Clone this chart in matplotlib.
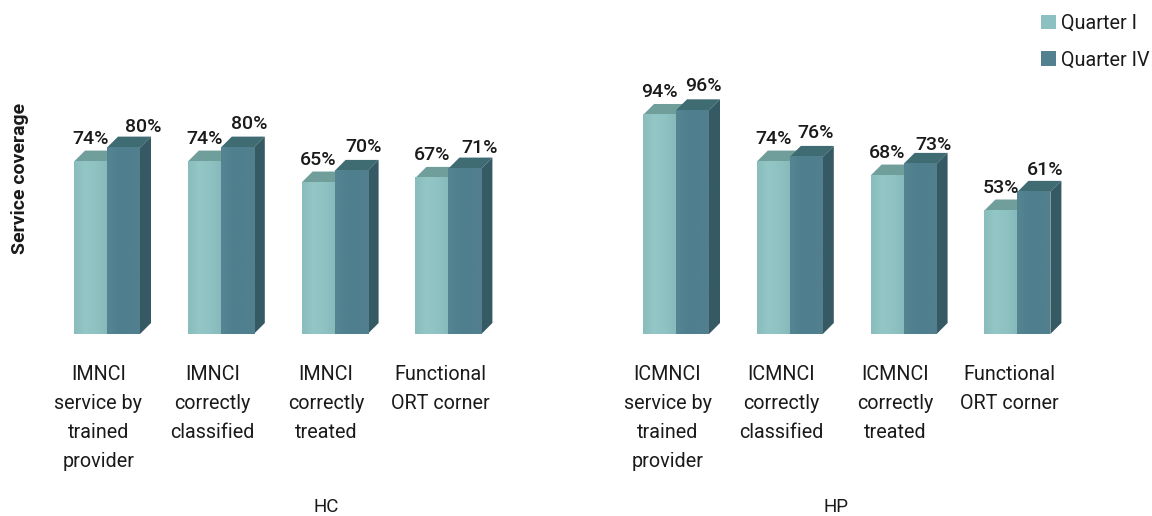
import matplotlib
matplotlib.use("Agg")
import matplotlib.pyplot as plt
import numpy as np
from matplotlib.colors import LinearSegmentedColormap
from matplotlib.patches import Polygon, Patch

plt.rcParams['font.family'] = ['Roboto', 'DejaVu Sans']

hc_labels = ["IMNCI\nservice by\ntrained\nprovider", "IMNCI\ncorrectly\nclassified", "IMNCI\ncorrectly\ntreated", "Functional\nORT corner"]
hp_labels = ["ICMNCI\nservice by\ntrained\nprovider", "ICMNCI\ncorrectly\nclassified", "ICMNCI\ncorrectly\ntreated", "Functional\nORT corner"]
hc_q1 = [74, 74, 65, 67]
hc_q4 = [80, 80, 70, 71]
hp_q1 = [94, 74, 68, 53]
hp_q4 = [96, 76, 73, 61]
series_names = ["Quarter I", "Quarter IV"]

# label nudges in pixels, from the bar's front-centre top
hc_q4_nudge = [(20, 21), (12, 24), (13, 24), (15, 21)]
hp_q4_nudge = [(11, 24), (9, 24), (13, 19), (11, 22)]

W, H = 1152, 516
SPACING = 113.8
BAR_PX = 33.0
DEPTH = 11.0
BASE_Y = 334.0
PLOT_H = 233.0

LIGHT = dict(grad=["#89bdbd", "#93c6c5", "#8fc3c3", "#87babb"], top="#6f9e9b", side="#5f8a8c", legend="#8dc0c0")
DARK = dict(grad=["#568492", "#4f808e", "#4f7f8e", "#537f8f"], top="#3f6c72", side="#365a63", legend="#52808e")
TXT = "#1a1a1a"

fig = plt.figure(figsize=(W / 100, H / 100), dpi=100, facecolor="white")
gradient = np.linspace(0, 1, 64).reshape(1, -1)


def draw_bars(ax, xs, vals, style, width, dx, dy):
    cmap = LinearSegmentedColormap.from_list("bar", style["grad"])
    bars = ax.bar(xs, vals, width=width, color=style["grad"][1], linewidth=0, zorder=3, clip_on=False)
    for x, v, b in zip(xs, vals, bars):
        l, r = x - width / 2, x + width / 2
        ax.imshow(gradient, extent=(l, r, 0, v), aspect="auto", cmap=cmap, zorder=3.1, clip_on=False)
        ax.add_patch(Polygon([(l, v), (r, v), (r + dx, v + dy), (l + dx, v + dy)],
                             closed=True, fc=style["top"], ec="none", zorder=2.9, clip_on=False))
        ax.add_patch(Polygon([(r, 0), (r + dx, dy), (r + dx, v + dy), (r, v)],
                             closed=True, fc=style["side"], ec="none", zorder=2.9, clip_on=False))


def panel(left_px, names, q1, q4, nudge, xlabel, xlabel_px):
    ax = fig.add_axes([left_px / W, 1 - BASE_Y / H, 4 * SPACING / W, PLOT_H / H], facecolor="none")
    w = BAR_PX / SPACING
    dx = DEPTH / SPACING
    dy = DEPTH / PLOT_H * 100
    xs = list(range(len(names)))
    draw_bars(ax, [x - w / 2 for x in xs], q1, LIGHT, w, dx, dy)
    draw_bars(ax, [x + w / 2 for x in xs], q4, DARK, w, dx, dy)
    ax.set_xlim(-0.5, 3.5)
    ax.set_ylim(0, 100)
    for x, a, b, (nx, ny) in zip(xs, q1, q4, nudge):
        ax.annotate(f"{a}%", (x - w / 2, a), xytext=(0, 16.5), textcoords="offset points",
                    ha="center", va="center", fontsize=14, fontweight="medium", color=TXT, zorder=5)
        ax.annotate(f"{b}%", (x + w / 2, b), xytext=(nx * 0.72, ny * 0.72), textcoords="offset points",
                    ha="center", va="center", fontsize=14, fontweight="medium", color=TXT, zorder=5)
    ax.set_xticks([])
    ax.set_yticks([])
    for x, name in zip(xs, names):
        ax.annotate(name, (x, 0), xytext=(-8.5 * 0.72, -30.5 * 0.72), textcoords="offset points",
                    ha="center", va="top", fontsize=14.2, color=TXT, linespacing=1.68, annotation_clip=False)
    for s in ax.spines.values():
        s.set_visible(False)
    fig.text(xlabel_px / W, 1 - 506.5 / H, xlabel, fontsize=13.5, color=TXT, ha="center", va="center")
    return ax


panel(107 - SPACING / 2, hc_labels, hc_q1, hc_q4, hc_q4_nudge, "HC", 326)
panel(676 - SPACING / 2, hp_labels, hp_q1, hp_q4, hp_q4_nudge, "HP", 836)

fig.text(20 / W, 1 - 178 / H, "Service coverage", rotation=90, fontsize=14, fontweight="bold",
         color=TXT, ha="center", va="center")

handles = [Patch(fc=LIGHT["legend"], ec="none"), Patch(fc=DARK["legend"], ec="none")]
fig.legend(handles, series_names, loc="upper left", bbox_to_anchor=(1037 / W, 1 - 10 / H),
           frameon=False, fontsize=14.2, labelcolor=TXT, handlelength=0.76, handleheight=0.76,
           handletextpad=0.25, labelspacing=0.88, borderpad=0.2, borderaxespad=0)

fig.savefig("out.png", dpi=100, facecolor="white")
